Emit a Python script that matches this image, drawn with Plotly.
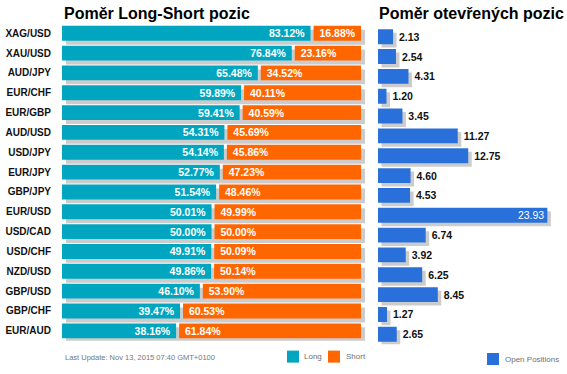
import plotly.graph_objects as go

pairs = ["XAG/USD", "XAU/USD", "AUD/JPY", "EUR/CHF", "EUR/GBP", "AUD/USD", "USD/JPY", "EUR/JPY",
         "GBP/JPY", "EUR/USD", "USD/CAD", "USD/CHF", "NZD/USD", "GBP/USD", "GBP/CHF", "EUR/AUD"]
long_pct = [83.12, 76.84, 65.48, 59.89, 59.41, 54.31, 54.14, 52.77,
            51.54, 50.01, 50.00, 49.91, 49.86, 46.10, 39.47, 38.16]
short_pct = [16.88, 23.16, 34.52, 40.11, 40.59, 45.69, 45.86, 47.23,
             48.46, 49.99, 50.00, 50.09, 50.14, 53.90, 60.53, 61.84]
open_pos = [2.13, 2.54, 4.31, 1.20, 3.45, 11.27, 12.75, 4.60,
            4.53, 23.93, 6.74, 3.92, 6.25, 8.45, 1.27, 2.65]
legend_labels = ["Long", "Short", "Open Positions"]

W, H = 567, 374
def fx(p): return p / W
def fy(p): return 1 - p / H

TEAL = "#00A6BF"
ORANGE = "#FF6600"
BLUE = "#2A70DA"
SHADOW = "#CCCCCC"
FONT = "Arial, Liberation Sans, sans-serif"

# style constants (pixels converted to data units)
L_PXU = 2.99          # px per % on left axis
R_PXU = 184 / 26.0    # px per unit on right axis
shift_l = 4 / L_PXU
gap_l = 3 / L_PXU
shift_r = 3.5 / R_PXU
BW = 0.75

totals = [a + b for a, b in zip(long_pct, short_pct)]
short_base = [a + gap_l for a in long_pct]
short_len = [b - gap_l for b in short_pct]

fig = go.Figure()

# left shadow
fig.add_trace(go.Bar(
    y=pairs, x=totals, base=[shift_l] * len(pairs), orientation="h",
    width=BW, offset=-BW / 2 + 0.2, marker=dict(color=SHADOW, line=dict(width=0)),
    showlegend=False, hoverinfo="skip", xaxis="x", yaxis="y"))

fig.add_trace(go.Bar(
    y=pairs, x=long_pct, orientation="h", name="",
    width=BW, offset=-BW / 2, marker=dict(color=TEAL, line=dict(width=0)),
    text=[f"{v:.2f}%\u00a0" for v in long_pct], textposition="inside",
    insidetextanchor="end", textangle=0, constraintext="none",
    insidetextfont=dict(family=FONT, size=10.5, color="white", weight="bold"),
    showlegend=True, legend="legend", xaxis="x", yaxis="y"))

fig.add_trace(go.Bar(
    y=pairs, x=short_len, base=short_base, orientation="h", name="",
    width=BW, offset=-BW / 2, marker=dict(color=ORANGE, line=dict(width=0)),
    text=[f"\u00a0{v:.2f}%" for v in short_pct], textposition="inside",
    insidetextanchor="start", textangle=0, constraintext="none",
    insidetextfont=dict(family=FONT, size=10.5, color="white", weight="bold"),
    showlegend=True, legend="legend2", xaxis="x", yaxis="y"))

# right shadow
fig.add_trace(go.Bar(
    y=pairs, x=open_pos, base=[shift_r] * len(pairs), orientation="h",
    width=BW, offset=-BW / 2 + 0.175, marker=dict(color=SHADOW, line=dict(width=0)),
    showlegend=False, hoverinfo="skip", xaxis="x2", yaxis="y2"))

inside_flag = [v > 20 for v in open_pos]
fig.add_trace(go.Bar(
    y=pairs, x=open_pos, orientation="h", name="",
    width=BW, offset=-BW / 2, marker=dict(color=BLUE, line=dict(width=0)),
    text=[f"{v:.2f}" if ins else f"\u00a0{v:.2f}" for v, ins in zip(open_pos, inside_flag)],
    textposition=["inside" if ins else "outside" for ins in inside_flag],
    insidetextanchor="end", textangle=0, cliponaxis=False, constraintext="none",
    insidetextfont=dict(family=FONT, size=10.5, color="white"),
    outsidetextfont=dict(family=FONT, size=10.5, color="#111111", weight="bold"),
    showlegend=True, legend="legend3", xaxis="x2", yaxis="y2"))

axis_common = dict(showgrid=False, zeroline=False, showline=False, ticks="", fixedrange=True)
leg_common = dict(xanchor="left", yanchor="middle", orientation="h", borderwidth=0,
                  bgcolor="rgba(0,0,0,0)", font=dict(family=FONT, size=8, color="#666666"))
lab_font = dict(family=FONT, size=8, color="#707070")

fig.update_layout(
    width=W, height=H,
    margin=dict(l=0, r=0, t=0, b=0),
    paper_bgcolor="white", plot_bgcolor="white",
    barmode="overlay",
    font=dict(family=FONT),
    xaxis=dict(domain=[fx(62), fx(367)], range=[0, 102], showticklabels=False, **axis_common),
    yaxis=dict(domain=[fy(343.5), fy(23.5)], range=[15.5, -0.5], type="category",
               showticklabels=True, ticklabelstandoff=10, automargin=False,
               tickfont=dict(family=FONT, size=10, color="#111111", weight="bold"),
               **axis_common),
    xaxis2=dict(domain=[fx(378), fx(562)], range=[0, 26], showticklabels=False,
                anchor="y2", **axis_common),
    yaxis2=dict(domain=[fy(347), fy(27)], range=[15.5, -0.5], type="category",
                showticklabels=False, anchor="x2", automargin=False, **axis_common),
    legend=dict(x=fx(273), y=fy(359.5), **leg_common),
    legend2=dict(x=fx(314), y=fy(359.5), **leg_common),
    legend3=dict(x=fx(473), y=fy(362), **leg_common),
    annotations=[
        dict(text="<b>Poměr Long-Short pozic</b>", xref="paper", yref="paper",
             x=fx(62), y=fy(14), xanchor="left", yanchor="middle", showarrow=False,
             font=dict(family=FONT, size=16, color="#000000")),
        dict(text="<b>Poměr otevřených pozic</b>", xref="paper", yref="paper",
             x=fx(376.5), y=fy(14), xanchor="left", yanchor="middle", showarrow=False,
             font=dict(family=FONT, size=16, color="#000000")),
        dict(text="Last Update: Nov 13, 2015 07:40 GMT+0100", xref="paper", yref="paper",
             x=fx(63), y=fy(360), xanchor="left", yanchor="middle", showarrow=False,
             font=dict(family=FONT, size=7.5, color="#777777")),
        dict(text=legend_labels[0], xref="paper", yref="paper", x=fx(302), y=fy(359.5),
             xanchor="left", yanchor="middle", showarrow=False, font=lab_font),
        dict(text=legend_labels[1], xref="paper", yref="paper", x=fx(344), y=fy(359.5),
             xanchor="left", yanchor="middle", showarrow=False, font=lab_font),
        dict(text=legend_labels[2], xref="paper", yref="paper", x=fx(503), y=fy(362),
             xanchor="left", yanchor="middle", showarrow=False, font=lab_font),
    ],
)

fig.write_html("out.html", config={"displayModeBar": False},
               post_script="document.body.style.margin='0';")
